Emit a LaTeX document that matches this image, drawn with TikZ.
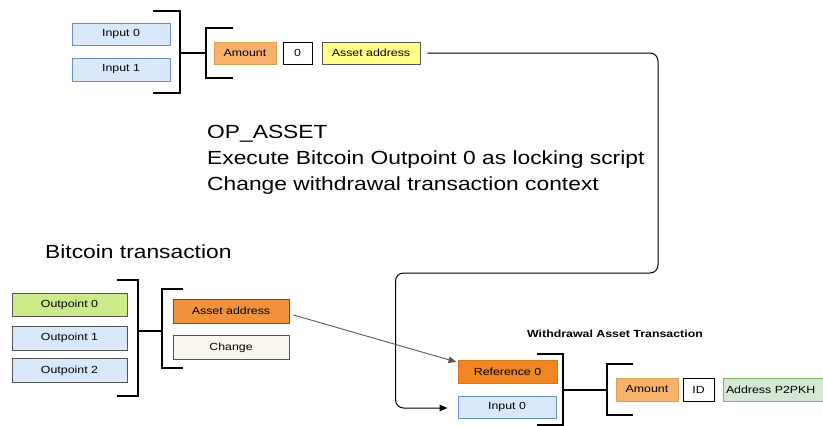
\documentclass[tikz,border=0pt]{standalone}
\usepackage{fontspec}
\setmainfont[FakeStretch=1.2]{Liberation Sans}
\usetikzlibrary{arrows.meta,calc}

\definecolor{bluefill}{HTML}{DAE8FC}
\definecolor{blueline}{HTML}{6C8EBF}
\definecolor{greenfill}{HTML}{CDEB8B}
\definecolor{palegreen}{HTML}{D5E8D4}
\definecolor{palegreenline}{HTML}{82B366}
\definecolor{amountfill}{HTML}{F6B26B}
\definecolor{amountline}{HTML}{E39D4F}
\definecolor{orangefill}{HTML}{F0923C}
\definecolor{refill}{HTML}{F08522}
\definecolor{refline}{HTML}{D8751A}
\definecolor{yellowfill}{HTML}{FFFF88}
\definecolor{creamfill}{HTML}{F9F7ED}
\definecolor{boxline}{HTML}{555555}
\definecolor{arrowgray}{HTML}{5A5A5A}

\begin{document}
\begin{tikzpicture}[x=1pt,y=-1pt,
  box/.style={draw, line width=0.9pt, inner sep=0pt, minimum height=23pt,
    font=\fontsize{10.3}{12}\selectfont},
  bluebox/.style={box, fill=bluefill, draw=blueline},
  darkbox/.style={box, draw=boxline},
  bracket/.style={line width=1.6pt, line cap=rect},
  bigtext/.style={inner sep=0pt, font=\fontsize{19}{26}\selectfont},
  conn/.style={line width=1pt, rounded corners=8pt},
  tip/.style={-{Triangle[length=8pt,width=6.5pt]}}]

\useasboundingbox (0,0) rectangle (823,426);
\clip (0,0) rectangle (823,426);

% ---- asset transaction: inputs and output
\node[bluebox, minimum width=98pt, minimum height=22pt] (in0) at (121,34) {Input 0};
\node[bluebox, minimum width=98pt] (in1) at (121,69.5) {Input 1};
\draw[bracket] (154,11) -- (180,11) -- (180,93) -- (154,93);
\draw[bracket] (180,53) -- (206,53);
\draw[bracket] (232,28) -- (206,28) -- (206,78) -- (232,78);
\node[box, fill=amountfill, draw=amountline, minimum width=62pt, minimum height=22pt] (amt) at (245,53) {Amount};
\node[box, draw=black, minimum width=29pt, minimum height=22pt] (zero) at (297.5,53) {0};
\node[darkbox, fill=yellowfill, minimum width=98pt, minimum height=22pt] (aaddr) at (371,53) {Asset address};

% ---- explanation (base anchor sits on the last line)
\node[bigtext, anchor=base west, align=left] (note) at (207,190)
  {OP\_ASSET\\Execute Bitcoin Outpoint 0 as locking script\\Change withdrawal transaction context};

% ---- bitcoin transaction
\node[bigtext, anchor=base west] (btctitle) at (45,258) {Bitcoin transaction};
\node[darkbox, fill=greenfill, minimum width=115pt] (op0) at (69.5,304.5) {Outpoint 0};
\node[darkbox, fill=bluefill, minimum width=115pt, minimum height=24pt] (op1) at (69.5,338) {Outpoint 1};
\node[darkbox, fill=bluefill, minimum width=115pt, minimum height=24pt] (op2) at (69.5,370.5) {Outpoint 2};
\draw[bracket] (118,280) -- (138,280) -- (138,396) -- (118,396);
\draw[bracket] (138,331) -- (162,331);
\draw[bracket] (182,289) -- (162,289) -- (162,368) -- (182,368);
\node[darkbox, fill=orangefill, minimum width=116pt, minimum height=24pt] (basset) at (231,311) {Asset address};
\node[darkbox, fill=creamfill, minimum width=116pt, minimum height=24pt] (change) at (231,347.5) {Change};

% ---- withdrawal asset transaction
\node[inner sep=0pt, anchor=base, font=\bfseries\fontsize{10.3}{12}\selectfont] (wtitle) at (615,337) {Withdrawal Asset Transaction};
\node[box, fill=refill, draw=refline, minimum width=99pt] (ref0) at (507.5,371.5) {Reference 0};
\node[bluebox, minimum width=98pt, minimum height=22pt] (win0) at (507,407) {Input 0};
\draw[bracket] (538,354) -- (563,354) -- (563,425) -- (538,425);
\draw[bracket] (563,390) -- (607,390);
\draw[bracket] (632,364) -- (607,364) -- (607,415) -- (632,415);
\node[box, fill=amountfill, draw=amountline, minimum width=62pt] (wamt) at (647,389.5) {Amount};
\node[box, draw=black, minimum width=31pt] (wid) at (698.5,389.5) {ID};
\node[box, fill=palegreen, draw=palegreenline, minimum width=117pt, text width=111pt, align=left] (p2pkh) at (781.5,389.5) {Address P2PKH};

% ---- connectors
\coordinate (turn) at (658,273);
\draw[conn, tip] ($(aaddr.east)+(7,0)$) -| (turn) -| ($(win0.west)+(-62,1)$) -- ($(win0.west)+(-10,1)$);
\draw[arrowgray, line width=0.9pt, tip] ($(basset.east)+(4,4)$) -- ($(ref0.west)+(-1,-9.5)$);

\end{tikzpicture}
\end{document}
